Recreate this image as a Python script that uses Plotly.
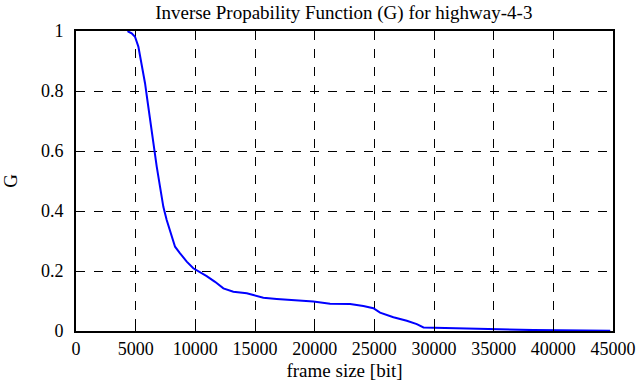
import plotly.graph_objects as go

frame_size = [4330, 4385, 4665, 4945, 5225, 5505, 5785, 5980, 6205, 6480, 6765, 7040, 7320, 7600,
              8020, 8300, 8720, 9280, 9830, 10390, 10950, 11650, 12350, 13185, 14310, 14860,
              15700, 16820, 18500, 19890, 21290, 22970, 24080, 24920, 25480, 26600, 27720,
              28560, 29120, 31910, 34430, 38340, 44770]
g_values = [1.0, 0.998, 0.992, 0.981, 0.948, 0.892, 0.826, 0.77, 0.703, 0.614, 0.548, 0.481, 0.414, 0.37,
            0.314, 0.281, 0.259, 0.231, 0.209, 0.197, 0.183, 0.164, 0.142, 0.131, 0.126, 0.12,
            0.111, 0.107, 0.103, 0.098, 0.091, 0.09, 0.083, 0.076, 0.061, 0.046, 0.034,
            0.023, 0.012, 0.01, 0.006, 0.003, 0.001]
x_ticks = [0, 5000, 10000, 15000, 20000, 25000, 30000, 35000, 40000, 45000]
y_ticks = [0, 0.2, 0.4, 0.6, 0.8, 1]
y_tick_labels = ["0", "0.2", "0.4", "0.6", "0.8", "1"]

font = "Liberation Serif"
fs = 19
tfs = 18

fig = go.Figure()
fig.add_trace(go.Scatter(x=frame_size, y=g_values, mode="lines",
                         line=dict(color="#0000ff", width=2), showlegend=False))

fig.update_layout(
    width=639, height=387,
    margin=dict(l=76, r=26, t=31, b=56, autoexpand=False),
    paper_bgcolor="white", plot_bgcolor="white",
    font=dict(family=font, size=fs, color="black"),
    title=dict(text="Inverse Propability Function (G) for highway-4-3", x=0.538, xanchor="center",
               y=0.969, yanchor="middle", font=dict(family=font, size=fs, color="black")),
)
fig.update_xaxes(range=[0, 45000], tickvals=x_ticks, ticktext=[str(v) for v in x_ticks],
                 showgrid=True, gridcolor="black", griddash="dash", gridwidth=1,
                 showline=True, linecolor="black", linewidth=2, mirror=True,
                 ticks="inside", ticklen=6, tickcolor="black", automargin=False,
                 zeroline=False, title=dict(text="frame size [bit]", standoff=6,
                                            font=dict(family=font, size=fs)),
                 tickfont=dict(family=font, size=tfs))
fig.update_yaxes(range=[0, 1], tickvals=y_ticks, ticktext=y_tick_labels,
                 showgrid=True, gridcolor="black", griddash="dash", gridwidth=1,
                 showline=True, linecolor="black", linewidth=2, mirror=True,
                 ticks="inside", ticklen=6, tickcolor="black", automargin=False,
                 zeroline=False, title=dict(text="G", standoff=30,
                                            font=dict(family=font, size=fs)),
                 tickfont=dict(family=font, size=tfs), ticklabelstandoff=7)

# remove the page's default 8px body margin so the figure fills the window exactly
fig.write_html("out.html", config={"displayModeBar": False},
               post_script="document.body.style.margin='0';document.body.style.overflow='hidden';")
